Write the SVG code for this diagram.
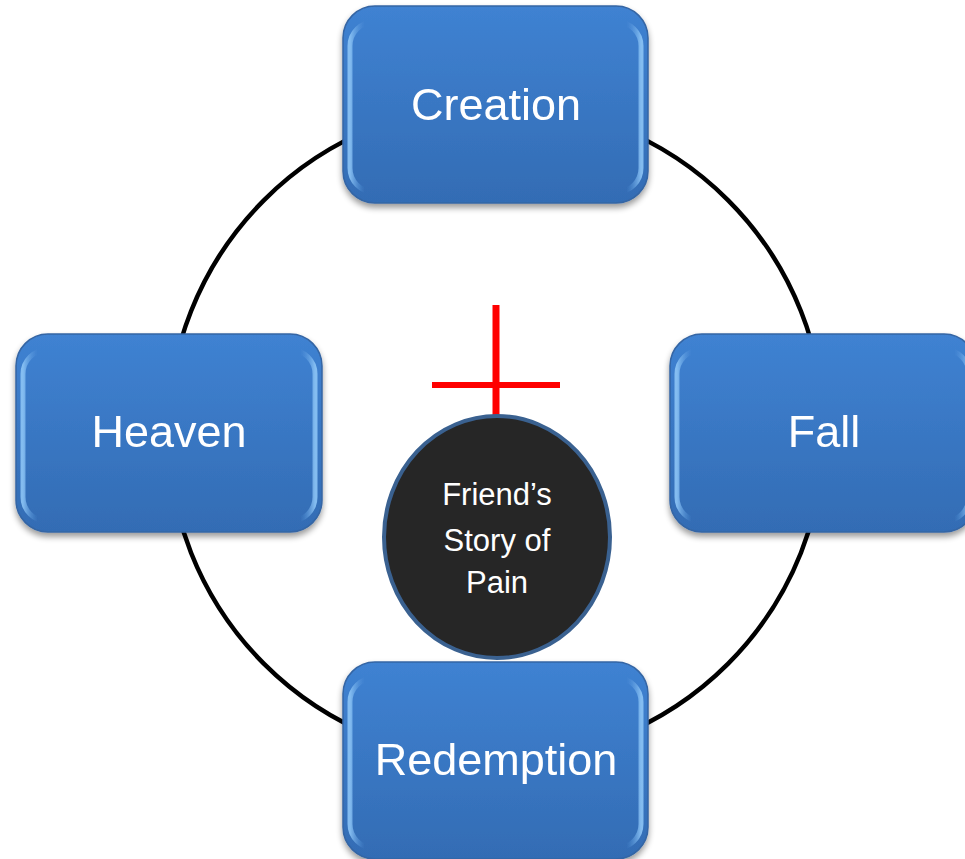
<svg xmlns="http://www.w3.org/2000/svg" width="965" height="859" viewBox="0 0 965 859">
<defs>
<linearGradient id="boxFill" x1="0" y1="0" x2="0" y2="1">
<stop offset="0" stop-color="#3f82d2"/>
<stop offset="1" stop-color="#336cb4"/>
</linearGradient>
<linearGradient id="bevel" x1="0" y1="0" x2="1" y2="0">
<stop offset="0" stop-color="#8cc4f5" stop-opacity="0.9"/>
<stop offset="0.05" stop-color="#5a9ae0" stop-opacity="0"/>
<stop offset="0.95" stop-color="#5a9ae0" stop-opacity="0"/>
<stop offset="1" stop-color="#8cc4f5" stop-opacity="0.9"/>
</linearGradient>
<filter id="shadow" x="-10%" y="-10%" width="120%" height="125%">
<feGaussianBlur in="SourceAlpha" stdDeviation="3"/>
<feOffset dx="0" dy="4" result="b"/>
<feComponentTransfer><feFuncA type="linear" slope="0.4"/></feComponentTransfer>
<feMerge><feMergeNode/><feMergeNode in="SourceGraphic"/></feMerge>
</filter>
</defs>
<style>
.box{fill:url(#boxFill);stroke:#3465a4;stroke-width:1.5}
.bev{fill:none;stroke:url(#bevel);stroke-width:5}
.lbl{font-family:"Liberation Sans",Arial,sans-serif;font-size:45px;fill:#ffffff;text-anchor:middle}
.ctr{font-family:"Liberation Sans",Arial,sans-serif;font-size:31px;fill:#ffffff;text-anchor:middle}
</style>
<rect width="965" height="859" fill="#ffffff"/>
<g id="connectors">
<circle cx="496" cy="432" r="328" fill="none" stroke="#000000" stroke-width="4.5"/>
</g>
<g id="creation" filter="url(#shadow)">
<rect class="box" x="343" y="6" width="305" height="197" rx="32"/>
<rect class="bev" x="350" y="22" width="291" height="170" rx="24"/>
<text class="lbl" x="496" y="120">Creation</text>
</g>
<g id="fall" filter="url(#shadow)">
<rect class="box" x="670" y="334" width="306" height="198" rx="32"/>
<rect class="bev" x="677" y="350" width="292" height="171" rx="24"/>
<text class="lbl" x="824" y="447">Fall</text>
</g>
<g id="heaven" filter="url(#shadow)">
<rect class="box" x="16" y="334" width="306" height="198" rx="32"/>
<rect class="bev" x="23" y="350" width="292" height="171" rx="24"/>
<text class="lbl" x="169" y="447">Heaven</text>
</g>
<g id="redemption" filter="url(#shadow)">
<rect class="box" x="343" y="662" width="305" height="197" rx="32"/>
<rect class="bev" x="350" y="678" width="291" height="170" rx="24"/>
<text class="lbl" x="496" y="775">Redemption</text>
</g>
<g id="cross">
<line x1="496" y1="305" x2="496" y2="418" stroke="#ff0000" stroke-width="7"/>
<line x1="432" y1="385" x2="560" y2="385" stroke="#ff0000" stroke-width="6"/>
</g>
<g id="story">
<ellipse cx="497" cy="537" rx="113" ry="121" fill="#262626" stroke="#3a6190" stroke-width="4"/>
<text class="ctr" x="497" y="505">Friend’s</text>
<text class="ctr" x="497" y="551">Story of</text>
<text class="ctr" x="497" y="593">Pain</text>
</g>
</svg>
